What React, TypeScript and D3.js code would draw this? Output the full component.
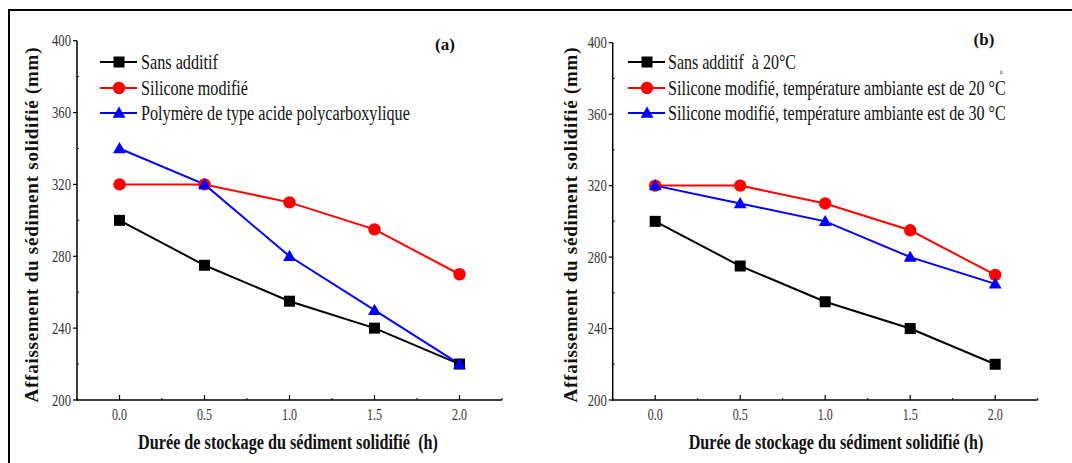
import React, { useLayoutEffect, useRef, useState } from "react";
import * as d3 from "d3";

const xValues = [0, 0.5, 1.0, 1.5, 2.0];
const xTicks = [0, 0.5, 1.0, 1.5, 2.0];
const xMinor = [-0.25, 0.25, 0.75, 1.25, 1.75, 2.25];
const yTicks = [200, 240, 280, 320, 360, 400];
const yMinor = [220, 260, 300, 340, 380];

const aSans = [300, 275, 255, 240, 220];
const aSilicone = [320, 320, 310, 295, 270];
const aPolymere = [340, 320, 280, 250, 220];

const bSans = [300, 275, 255, 240, 220];
const bSilicone20 = [320, 320, 310, 295, 270];
const bSilicone30 = [320, 310, 300, 280, 265];

const aNames = ["Sans additif", "Silicone modifié", "Polymère de type acide polycarboxylique"];
const bNames = [
  "Sans additif  à 20°C",
  "Silicone modifié, température ambiante est de 20 °C",
  "Silicone modifié, température ambiante est de 30 °C",
];

const FONT = "Liberation Serif";
const colors = ["#000000", "#ff0000", "#0000ff"];
const shapes = ["square", "circle", "triangle"];
const pre = { whiteSpace: "pre" as const };

function FitText(props: {
  x: number;
  y: number;
  width: number;
  anchor?: string;
  size: number;
  bold?: boolean;
  fill?: string;
  children: string;
}) {
  const ref = useRef<SVGTextElement>(null);
  const [sx, setSx] = useState(1);
  useLayoutEffect(() => {
    if (ref.current) {
      const w = ref.current.getComputedTextLength();
      if (w > 0) setSx(props.width / w);
    }
  }, [props.width, props.children]);
  return (
    <text
      ref={ref}
      transform={`translate(${props.x},${props.y}) scale(${sx},1)`}
      textAnchor={props.anchor || "start"}
      fontSize={props.size}
      fontWeight={props.bold ? "bold" : "normal"}
      fontFamily={FONT}
      fill={props.fill || "#111"}
      style={pre}
    >
      {props.children}
    </text>
  );
}

function Marker({ shape, x, y, color }: { shape: string; x: number; y: number; color: string }) {
  if (shape === "square") return <rect x={x - 5.5} y={y - 5.5} width={11} height={11} fill={color} />;
  if (shape === "circle") return <circle cx={x} cy={y} r={6.2} fill={color} />;
  const s = d3.symbol(d3.symbolTriangle, 72)();
  return <path d={s || ""} transform={`translate(${x},${y + 1})`} fill={color} />;
}

type PanelProps = {
  ox: number;
  yTop: number;
  series: number[][];
  names: string[];
  widths: number[];
  label: string;
  labelX: number;
  labelY: number;
  legX0: number;
  textX: number;
  xLabel: string;
  xLabelW: number;
  xLabelCx: number;
  yLabelX: number;
  extra?: boolean;
};

function Panel(p: PanelProps) {
  const x = d3.scaleLinear().domain([-0.25, 2.25]).range([p.ox, p.ox + 425]);
  const y = d3.scaleLinear().domain([200, 400]).range([400, p.yTop]);
  const line = d3
    .line<number>()
    .x((_, i) => x(xValues[i]))
    .y((d) => y(d));
  const legYs = [62, 88, 113];
  return (
    <g>
      <line x1={p.ox} x2={p.ox} y1={y(400)} y2={y(200) + 0.75} stroke="#000" strokeWidth={1.5} />
      <line x1={p.ox} x2={x(2.25)} y1={y(200)} y2={y(200)} stroke="#000" strokeWidth={1.5} />
      {yTicks.map((t) => (
        <g key={t}>
          <line x1={p.ox - 4} x2={p.ox} y1={y(t)} y2={y(t)} stroke="#000" strokeWidth={1.2} />
          <FitText x={p.ox - 6} y={y(t) + 5.5} anchor="end" size={16} width={19} fill="#333">
            {String(t)}
          </FitText>
        </g>
      ))}
      {yMinor.map((t) => (
        <line key={t} x1={p.ox} x2={p.ox + 2} y1={y(t)} y2={y(t)} stroke="#000" strokeWidth={1} />
      ))}
      {xTicks.map((t) => (
        <g key={t}>
          <line x1={x(t)} x2={x(t)} y1={y(200)} y2={y(200) - 5} stroke="#000" strokeWidth={1.2} />
          <FitText x={x(t)} y={420} anchor="middle" size={16} width={15} fill="#333">
            {d3.format(".1f")(t)}
          </FitText>
        </g>
      ))}
      {xMinor.map((t) => (
        <line key={t} x1={x(t)} x2={x(t)} y1={y(200)} y2={y(200) - 2} stroke="#000" strokeWidth={1} />
      ))}
      <FitText x={p.xLabelCx} y={449} anchor="middle" size={20} bold width={p.xLabelW}>
        {p.xLabel}
      </FitText>
      <text
        transform={`translate(${p.yLabelX},${225}) rotate(-90)`}
        textAnchor="middle"
        fontSize={19}
        fontWeight="bold"
        fontFamily={FONT}
        textLength={355}
        lengthAdjust="spacing"
        fill="#111"
      >
        Affaissement du sédiment solidifié (mm)
      </text>
      {p.series.map((s, k) => (
        <path key={k} d={line(s) || ""} fill="none" stroke={colors[k]} strokeWidth={2} />
      ))}
      {p.series.map((s, k) => (
        <g key={"m" + k}>
          {s.map((v, i) => (
            <Marker key={i} shape={shapes[k]} x={x(xValues[i])} y={y(v)} color={colors[k]} />
          ))}
        </g>
      ))}
      {p.names.map((n, k) => (
        <g key={n}>
          <line x1={p.legX0} x2={p.legX0 + 37} y1={legYs[k]} y2={legYs[k]} stroke={colors[k]} strokeWidth={2} />
          <Marker shape={shapes[k]} x={p.legX0 + 19} y={legYs[k]} color={colors[k]} />
          <FitText x={p.textX} y={legYs[k] + 6.5} size={20} width={p.widths[k]}>
            {n}
          </FitText>
        </g>
      ))}
      <text x={p.labelX} y={p.labelY} textAnchor="middle" fontSize={17} fontWeight="bold" fontFamily={FONT} fill="#111">
        {p.label}
      </text>
      {p.extra && (
        <text x={1001} y={73.5} textAnchor="middle" fontSize={6} fontFamily={FONT} fill="#111">
          à
        </text>
      )}
    </g>
  );
}

export default function App() {
  return (
    <svg
      width={1072}
      height={463}
      style={{ position: "absolute", left: 0, top: 0, background: "#fff" }}
      xmlns="http://www.w3.org/2000/svg"
    >
      <rect x={0} y={0} width={1072} height={463} fill="#fff" />
      <line x1={8} x2={1072} y1={10} y2={10} stroke="#000" strokeWidth={2} />
      <line x1={9} x2={9} y1={9} y2={463} stroke="#000" strokeWidth={2} />
      <Panel
        ox={77}
        yTop={40.7}
        series={[aSans, aSilicone, aPolymere]}
        names={aNames}
        widths={[77, 107, 269]}
        label="(a)"
        labelX={445}
        labelY={50}
        legX0={100}
        textX={141}
        xLabel="Durée de stockage du sédiment solidifié  (h)"
        xLabelW={300}
        xLabelCx={288}
        yLabelX={38}
      />
      <Panel
        ox={612.7}
        yTop={42.7}
        series={[bSans, bSilicone20, bSilicone30]}
        names={bNames}
        widths={[128, 338, 338]}
        label="(b)"
        labelX={984}
        labelY={45}
        legX0={628}
        textX={668}
        xLabel="Durée de stockage du sédiment solidifié (h)"
        xLabelW={295}
        xLabelCx={836}
        yLabelX={577}
        extra
      />
    </svg>
  );
}
